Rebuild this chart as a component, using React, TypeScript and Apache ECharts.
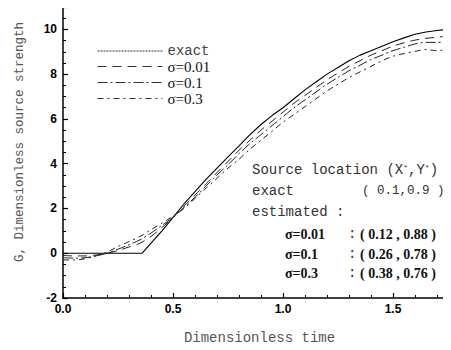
import React, { useEffect, useRef } from "react";
import * as echarts from "echarts";

// ---- data ----
const seriesNames = ["exact", "σ=0.01", "σ=0.1", "σ=0.3"];

const exactTime = [0, 0.36, 0.4, 0.45, 0.5, 0.55, 0.6, 0.65, 0.7, 0.75, 0.8, 0.85, 0.9, 0.95, 1.0, 1.05, 1.1, 1.15, 1.2, 1.25, 1.3, 1.35, 1.4, 1.45, 1.5, 1.55, 1.6, 1.65, 1.7, 1.75];
const exactG = [0, 0, 0.45, 1.0, 1.6, 2.2, 2.75, 3.3, 3.8, 4.3, 4.8, 5.3, 5.75, 6.15, 6.5, 6.9, 7.3, 7.65, 8.0, 8.3, 8.6, 8.85, 9.05, 9.25, 9.45, 9.62, 9.78, 9.88, 9.95, 10.0];

const estTime = [0, 0.05, 0.1, 0.15, 0.2, 0.25, 0.3, 0.35, 0.4, 0.45, 0.5, 0.55, 0.6, 0.65, 0.7, 0.75, 0.8, 0.85, 0.9, 0.95, 1.0, 1.05, 1.1, 1.15, 1.2, 1.25, 1.3, 1.35, 1.4, 1.45, 1.5, 1.55, 1.6, 1.65, 1.7, 1.75];
const g001 = [-0.1, -0.12, -0.12, -0.08, 0.0, 0.12, 0.28, 0.45, 0.75, 1.15, 1.6, 2.1, 2.6, 3.1, 3.6, 4.1, 4.6, 5.05, 5.5, 5.9, 6.3, 6.7, 7.05, 7.4, 7.75, 8.05, 8.35, 8.6, 8.85, 9.05, 9.25, 9.4, 9.52, 9.6, 9.65, 9.7];
const g01 = [-0.2, -0.22, -0.2, -0.12, 0.0, 0.18, 0.38, 0.6, 0.9, 1.25, 1.6, 2.05, 2.5, 3.0, 3.5, 3.95, 4.45, 4.9, 5.3, 5.7, 6.1, 6.5, 6.85, 7.2, 7.55, 7.85, 8.15, 8.4, 8.65, 8.85, 9.05, 9.2, 9.35, 9.42, 9.42, 9.45];
const g03 = [-0.3, -0.3, -0.25, -0.12, 0.05, 0.3, 0.52, 0.75, 1.05, 1.35, 1.65, 2.0, 2.45, 2.9, 3.35, 3.8, 4.2, 4.65, 5.05, 5.45, 5.85, 6.2, 6.55, 6.9, 7.25, 7.55, 7.85, 8.1, 8.35, 8.6, 8.8, 8.92, 9.02, 9.1, 9.05, 9.12];

const xTickLabels = ["0.0", "0.5", "1.0", "1.5"];
const yTickLabels = ["-2", "0", "2", "4", "6", "8", "10"];

const locationTitle = "Source location (X";
const exactLocation = "( 0.1,0.9 )";
const estimatedLabels = ["σ=0.01", "σ=0.1", "σ=0.3"];
const estimatedLocations = ["( 0.12 , 0.88 )", "( 0.26 , 0.78 )", "( 0.38 , 0.76 )"];

const MONO = "'Liberation Mono', 'DejaVu Sans Mono', monospace";
const SERIF = "'Liberation Serif', 'DejaVu Serif', serif";
const SANS = "'Liberation Sans', Arial, sans-serif";

const zip = (xs: number[], ys: number[]) => xs.map((x, i) => [x, ys[i]]);

export default function App() {
  const ref = useRef<HTMLDivElement>(null);

  useEffect(() => {
    if (!ref.current) return;
    const chart = echarts.init(ref.current, null, { renderer: "svg" });

    const dashes: any[] = ["solid", [9, 6], [10, 3, 2, 3], [6, 4, 2, 4]];
    const legendDashes: any[] = [[2, 1], [9, 6], [10, 3, 2, 3], [6, 4, 2, 4]];
    const datasets = [zip(exactTime, exactG), zip(estTime, g001), zip(estTime, g01), zip(estTime, g03)];

    const series = seriesNames.map((name, i) => ({
      name,
      type: "line",
      data: datasets[i],
      symbol: "none",
      showSymbol: false,
      color: "#111",
      smooth: i === 0 ? false : 0.3,
      lineStyle: { color: i === 0 ? "#000" : "#222", width: i === 0 ? 1.1 : 1, type: dashes[i] },
      z: 3,
    }));

    const rowY = [234, 254, 273];
    const graphics: any[] = [
      {
        type: "text",
        x: 20,
        y: 142,
        rotation: Math.PI / 2,
        style: {
          text: "G, Dimensionless source strength",
          font: `12.5px ${MONO}`,
          fill: "#555",
          align: "center",
          verticalAlign: "middle",
        },
      },
      {
        type: "text",
        x: 252,
        y: 170,
        style: {
          text: `{m|${locationTitle}}{s|*}{m|,Y}{s|*}{m|)}`,
          rich: {
            m: { fontFamily: MONO, fontSize: 14, fill: "#333", color: "#333" },
            s: { fontFamily: MONO, fontSize: 8, fill: "#333", color: "#333", verticalAlign: "top", padding: [0, 0, 6, 0] },
          },
          verticalAlign: "middle",
        },
      },
      { type: "text", x: 252, y: 191, style: { text: "exact", font: `14px ${MONO}`, fill: "#333", verticalAlign: "middle" } },
      { type: "text", x: 362, y: 191, style: { text: exactLocation, font: `12.5px ${MONO}`, fill: "#333", verticalAlign: "middle" } },
      { type: "text", x: 252, y: 212, style: { text: "estimated :", font: `14px ${MONO}`, fill: "#333", verticalAlign: "middle" } },
    ];
    estimatedLabels.forEach((lab, i) => {
      graphics.push({ type: "text", x: 285, y: rowY[i], style: { text: lab, font: `bold 14px ${SERIF}`, fill: "#111", verticalAlign: "middle" } });
      graphics.push({ type: "text", x: 348, y: rowY[i], style: { text: ":", font: `14px ${MONO}`, fill: "#333", verticalAlign: "middle" } });
      graphics.push({ type: "text", x: 360, y: rowY[i], style: { text: estimatedLocations[i], font: `bold 14px ${SERIF}`, fill: "#111", verticalAlign: "middle" } });
    });

    const xLabelSet = new Set(xTickLabels);
    const yLabelSet = new Set(yTickLabels);

    chart.setOption({
      animation: false,
      backgroundColor: "#fff",
      grid: { left: 63, top: 7, right: 1, bottom: 51, containLabel: false },
      legend: {
        orient: "vertical",
        left: 92,
        top: 39,
        itemWidth: 65,
        itemHeight: 10,
        itemGap: 1,
        selectedMode: false,
        data: seriesNames.map((name, i) => ({ name, lineStyle: { type: legendDashes[i], width: 1, color: "#333" } })),
        itemStyle: { opacity: 0 },
        formatter: (name: string) => (name === "exact" ? `{m|${name}}` : `{s|${name}}`),
        textStyle: {
          rich: {
            m: { fontFamily: MONO, fontSize: 14, color: "#444", lineHeight: 14 },
            s: { fontFamily: SERIF, fontSize: 15, color: "#111", lineHeight: 14 },
          },
        },
      },
      xAxis: [
        {
          type: "value",
          min: 0,
          max: 1.75,
          interval: 0.5,
          name: "Dimensionless time",
          nameLocation: "middle",
          nameGap: 33,
          nameTextStyle: { fontFamily: MONO, fontSize: 14, color: "#555", padding: [0, 0, 0, 8] },
          axisLine: { show: true, onZero: false, lineStyle: { color: "#000", width: 1.5 } },
          axisTick: { show: true, inside: true, length: 5, lineStyle: { color: "#000", width: 1.2 } },
          minorTick: { show: true, splitNumber: 5, length: 3, lineStyle: { color: "#000", width: 1 } },
          splitLine: { show: false },
          axisLabel: {
            margin: 5,
            fontFamily: SANS,
            fontWeight: "bold",
            fontSize: 12,
            color: "#000",
            formatter: (v: number) => (xLabelSet.has(v.toFixed(1)) && Math.abs(v * 2 - Math.round(v * 2)) < 1e-9 ? v.toFixed(1) : ""),
          },
        },
        {
          type: "value",
          position: "top",
          min: 0,
          max: 1.75,
          interval: 0.5,
          axisLine: { show: true, onZero: false, lineStyle: { color: "#000", width: 1.5 } },
          axisTick: { show: false },
          axisLabel: { show: false },
          splitLine: { show: false },
        },
      ],
      yAxis: {
        type: "value",
        min: -2,
        max: 11,
        interval: 2,
        axisLine: { show: true, onZero: false, lineStyle: { color: "#000", width: 1.5 } },
        axisTick: { show: true, inside: true, length: 5, lineStyle: { color: "#000", width: 1.2 } },
        minorTick: { show: true, splitNumber: 4, length: 3, lineStyle: { color: "#000", width: 1 } },
        splitLine: { show: false },
        axisLabel: {
          margin: 6,
          fontFamily: SANS,
          fontWeight: "bold",
          fontSize: 12,
          color: "#000",
          formatter: (v: number) => (yLabelSet.has(String(v)) ? String(v) : ""),
        },
      },
      series,
      graphic: graphics,
    });

    return () => chart.dispose();
  }, []);

  return <div ref={ref} style={{ width: 451, height: 350, margin: -8 }} />;
}
